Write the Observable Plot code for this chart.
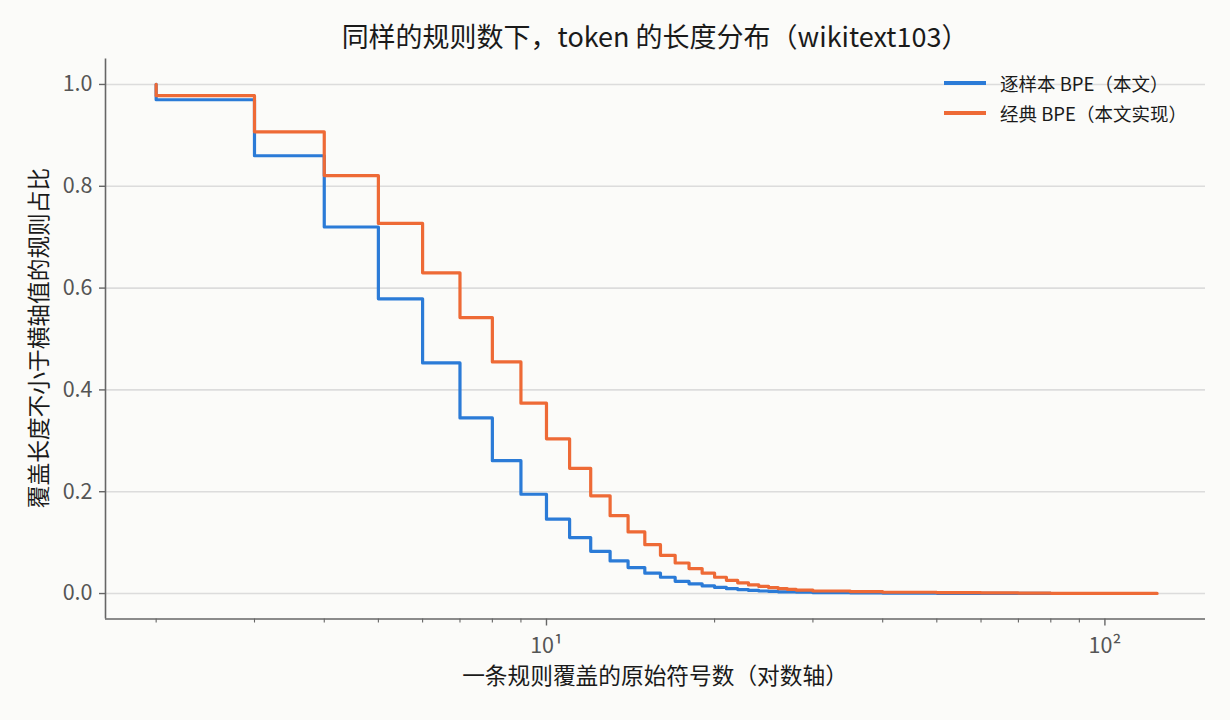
<!DOCTYPE html>
<html>
<head>
<meta charset="utf-8">
<script src="https://cdn.jsdelivr.net/npm/d3@7"></script>
<script src="https://cdn.jsdelivr.net/npm/@observablehq/plot@0.6"></script>
<style>
  html, body { margin: 0; padding: 0; background: #fbfbf9; }
  body { width: 1230px; height: 720px; overflow: hidden; font-family: "Noto Sans CJK SC", "Noto Sans", sans-serif; }
  #wrap { position: relative; width: 1230px; height: 720px; }
  #chart { position: absolute; left: 0; top: 0; }
  .title { position: absolute; left: 105px; width: 1100px; top: 18px; text-align: center; font-size: 27px; line-height: 36px; color: #1a1a1a; }
  .xlabel { position: absolute; left: 105px; width: 1100px; top: 660px; text-align: center; font-size: 22.7px; line-height: 30px; color: #1a1a1a; }
  .ylabel { position: absolute; left: 38px; top: 338px; transform: translate(-50%, -50%) rotate(-90deg); white-space: nowrap; font-size: 22.7px; line-height: 30px; color: #1a1a1a; }
  .legend { position: absolute; left: 944px; top: 68px; font-size: 18.5px; color: #1a1a1a; }
  .legend .row { display: flex; align-items: center; height: 30px; }
  .legend .sw { width: 42px; height: 3.2px; margin-right: 14px; }
</style>
</head>
<body>
<div id="wrap">
  <div id="chart"></div>
  <div class="title">同样的规则数下，token 的长度分布（wikitext103）</div>
  <div class="xlabel">一条规则覆盖的原始符号数（对数轴）</div>
  <div class="ylabel">覆盖长度不小于横轴值的规则占比</div>
  <div class="legend" id="legend"></div>
</div>
<script>
// ---- data ----
const seriesNames = ["逐样本 BPE（本文）", "经典 BPE（本文实现）"];
const seriesColors = ["#2b7bd7", "#ee6a36"];

// Per-sample BPE (ours): coverage length x and share of rules with length >= x (step value ending at x)
const perSampleX = [2, 3, 4, 5, 6, 7, 8, 9, 10, 11, 12, 13, 14, 15, 16, 17, 18, 19, 20, 21, 22, 23, 24, 25, 26, 28, 30, 35, 40, 50, 60, 70, 80, 94];
const perSampleY = [1.0, 0.970, 0.860, 0.720, 0.579, 0.453, 0.345, 0.261, 0.195, 0.146, 0.110, 0.083, 0.064, 0.051, 0.040, 0.032, 0.024, 0.019, 0.015, 0.012, 0.0095, 0.0078, 0.0062, 0.005, 0.0042, 0.0033, 0.0026, 0.0018, 0.0012, 0.0008, 0.0005, 0.0003, 0.0002, 0.0001];

// Classic BPE (our implementation)
const classicX = [2, 3, 4, 5, 6, 7, 8, 9, 10, 11, 12, 13, 14, 15, 16, 17, 18, 19, 20, 21, 22, 23, 24, 25, 26, 27, 28, 30, 35, 40, 50, 60, 70, 80, 100, 124];
const classicY = [1.0, 0.978, 0.907, 0.821, 0.727, 0.630, 0.542, 0.455, 0.374, 0.304, 0.246, 0.192, 0.153, 0.121, 0.096, 0.075, 0.060, 0.049, 0.040, 0.032, 0.026, 0.021, 0.017, 0.014, 0.0115, 0.0095, 0.008, 0.0068, 0.005, 0.0038, 0.0025, 0.0018, 0.0012, 0.0008, 0.0004, 0.0002];

// axis settings
const xDomain = [1.623, 151.4];
const yDomain = [-0.05, 1.05];
const yTicks = [0, 0.2, 0.4, 0.6, 0.8, 1.0];
const xMajorTicks = [10, 100];
const xMajorLabels = ["10¹", "10²"];
const xMinorTicks = [2, 3, 4, 5, 6, 7, 8, 9, 20, 30, 40, 50, 60, 70, 80, 90];

// ---- build tables ----
const perSample = perSampleX.map((x, i) => ({x, y: perSampleY[i]}));
const classic = classicX.map((x, i) => ({x, y: classicY[i]}));

const chart = Plot.plot({
  width: 1230,
  height: 720,
  marginLeft: 105,
  marginRight: 25,
  marginTop: 58.5,
  marginBottom: 101.5,
  style: { background: "transparent", fontFamily: "'Noto Sans CJK SC', 'Noto Sans', sans-serif", color: "#555" },
  x: { type: "log", domain: xDomain },
  y: { domain: yDomain },
  marks: [
    Plot.gridY(yTicks, { stroke: "#dcdcdc", strokeOpacity: 1, strokeWidth: 1.6 }),
    Plot.axisY(yTicks, { tickSize: 6, tickPadding: 7, fontSize: 21.5, tickFormat: d => d.toFixed(1), label: null, stroke: "#666", fill: "#555", strokeWidth: 1.4 }),
    Plot.axisX(xMinorTicks, { tickSize: 4, tickFormat: () => "", label: null, stroke: "#666", strokeWidth: 1.1 }),
    Plot.axisX(xMajorTicks, { tickSize: 7, tickPadding: 12, fontSize: 21.5, tickFormat: d => xMajorLabels[xMajorTicks.indexOf(d)], label: null, stroke: "#666", fill: "#555", strokeWidth: 1.4 }),
    Plot.ruleY([yDomain[0]], { stroke: "#666", strokeWidth: 1.6 }),
    Plot.ruleX([xDomain[0]], { stroke: "#666", strokeWidth: 1.6 }),
    Plot.line(perSample, { x: "x", y: "y", curve: "step-before", stroke: seriesColors[0], strokeWidth: 3.2 }),
    Plot.line(classic, { x: "x", y: "y", curve: "step-before", stroke: seriesColors[1], strokeWidth: 3.2 })
  ]
});
document.getElementById("chart").appendChild(chart);

const legend = document.getElementById("legend");
seriesNames.forEach((name, i) => {
  const row = document.createElement("div");
  row.className = "row";
  const sw = document.createElement("div");
  sw.className = "sw";
  sw.style.background = seriesColors[i];
  const label = document.createElement("span");
  label.textContent = name;
  row.appendChild(sw);
  row.appendChild(label);
  legend.appendChild(row);
});
</script>
</body>
</html>
